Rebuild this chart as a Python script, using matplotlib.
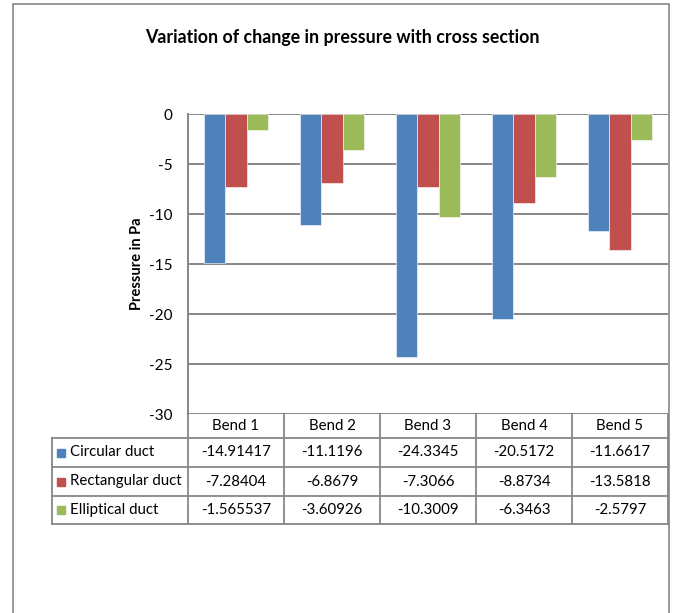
import matplotlib.pyplot as plt
import matplotlib.transforms as mtransforms
from matplotlib.patches import Rectangle
import numpy as np

plt.rcParams['font.family'] = ['Lato', 'DejaVu Sans']
plt.rcParams['axes.unicode_minus'] = False

bends = ["Bend 1", "Bend 2", "Bend 3", "Bend 4", "Bend 5"]
series = ["Circular duct", "Rectangular duct", "Elliptical duct"]
circular = [-14.91417, -11.1196, -24.3345, -20.5172, -11.6617]
rectangular = [-7.28404, -6.8679, -7.3066, -8.8734, -13.5818]
elliptical = [-1.565537, -3.60926, -10.3009, -6.3463, -2.5797]
circular_txt = ["-14.91417", "-11.1196", "-24.3345", "-20.5172", "-11.6617"]
rectangular_txt = ["-7.28404", "-6.8679", "-7.3066", "-8.8734", "-13.5818"]
elliptical_txt = ["-1.565537", "-3.60926", "-10.3009", "-6.3463", "-2.5797"]
yticks = [0, -5, -10, -15, -20, -25, -30]

colors = ["#4F81BD", "#C0504D", "#9BBB59"]
grid_color = "#878787"

W, H = 673, 613
fig = plt.figure(figsize=(W / 100, H / 100), dpi=100)

# outer chart frame
fig.add_artist(Rectangle((13 / W, -0.05), (669 - 13) / W, 1.05 - 4 / H,
                         transform=fig.transFigure, fill=False,
                         edgecolor=grid_color, linewidth=1.2))

ax = fig.add_axes([188 / W, 1 - 414 / H, 480 / W, 300 / H])

x = np.arange(len(bends))
bw = 0.219
for i, (vals, col) in enumerate(zip([circular, rectangular, elliptical], colors)):
    ax.bar(x + (i - 1) * bw, vals, bw, color=col, edgecolor="white",
           linewidth=0.4, zorder=3)

ax.set_xlim(-0.5, len(bends) - 0.5)
ax.set_ylim(-30, 0)
ax.set_yticks(yticks)
ax.set_yticklabels([str(t) for t in yticks], fontsize=11)
ax.tick_params(axis="y", length=0, pad=11)
ax.set_xticks([])
ax.grid(axis="y", color=grid_color, linewidth=1.4, zorder=0)
for s in ["top", "right", "bottom"]:
    ax.spines[s].set_visible(False)
ax.spines["left"].set_color(grid_color)
ax.spines["left"].set_linewidth(1.4)

ax.set_ylabel("Pressure in Pa", fontsize=10.5, fontweight="bold", labelpad=4)
fig.text(342 / W, 1 - 37 / H, "Variation of change in pressure with cross section",
         ha="center", va="center", fontsize=12.8, fontweight="bold")

# data table under the axis, columns follow the category scale
trans = mtransforms.blended_transform_factory(ax.transData, ax.transAxes)
px = 1 / 300
row_edges = [0, -24 * px, -53 * px, -82 * px, -110 * px]
left_x = -0.5 - 136 / 96
lw = 1.3
kw = dict(transform=trans, clip_on=False, color=grid_color, linewidth=lw)

ax.plot([-0.5, 4.5], [row_edges[1]] * 2, **kw)
for y in row_edges[2:]:
    ax.plot([left_x, 4.5], [y, y], **kw)
ax.plot([left_x, -0.5], [row_edges[1]] * 2, **kw)
ax.plot([left_x, left_x], [row_edges[1], row_edges[-1]], **kw)
for b in np.arange(-0.5, len(bends), 1.0):
    ax.plot([b, b], [row_edges[0], row_edges[-1]], **kw)

for i, b in enumerate(bends):
    ax.text(i, (row_edges[0] + row_edges[1]) / 2, b, transform=trans,
            ha="center", va="center", fontsize=10.8)

for r, (name, col, txts) in enumerate(zip(series, colors,
                                         [circular_txt, rectangular_txt, elliptical_txt])):
    yc = (row_edges[r + 1] + row_edges[r + 2]) / 2
    ax.add_patch(Rectangle((left_x + 5 / 96, yc - 4 * px), 8 / 96, 8 * px,
                           transform=trans, clip_on=False, color=col))
    ax.text(left_x + 18 / 96, yc, name, transform=trans, ha="left",
            va="center", fontsize=10.8)
    for i, t in enumerate(txts):
        ax.text(i, yc, t, transform=trans, ha="center", va="center", fontsize=10.8)

fig.savefig("out.png", dpi=100)
